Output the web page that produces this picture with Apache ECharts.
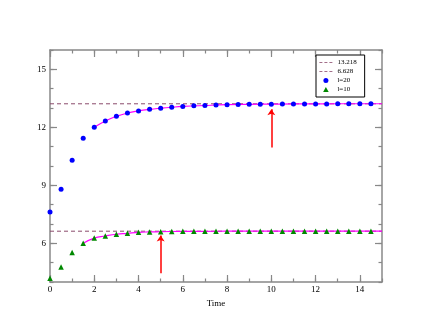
<!DOCTYPE html>
<html>
<head>
<meta charset="utf-8">
<script src="https://cdn.jsdelivr.net/npm/echarts@6/dist/echarts.min.js"></script>
<style>
  html, body { margin: 0; padding: 0; background: #fff; }
  #chart { width: 430px; height: 332px; }
</style>
</head>
<body>
<div id="chart"></div>
<script>
// data
var timeX = [0, 0.5, 1, 1.5, 2, 2.5, 3, 3.5, 4, 4.5, 5, 5.5, 6, 6.5, 7, 7.5, 8, 8.5, 9, 9.5,
  10, 10.5, 11, 11.5, 12, 12.5, 13, 13.5, 14, 14.5];
var l20 = [7.62, 8.8, 10.3, 11.43, 12.0, 12.33, 12.57, 12.74, 12.85, 12.93, 12.99, 13.04, 13.08,
  13.11, 13.13, 13.15, 13.17, 13.18, 13.19, 13.2, 13.2, 13.21, 13.21, 13.21, 13.21, 13.21, 13.22,
  13.22, 13.22, 13.22];
var l10 = [4.19, 4.77, 5.52, 6.0, 6.27, 6.38, 6.47, 6.52, 6.57, 6.59, 6.6, 6.61, 6.62, 6.62,
  6.62, 6.62, 6.63, 6.63, 6.63, 6.63, 6.63, 6.63, 6.63, 6.63, 6.63, 6.63, 6.63, 6.63, 6.63, 6.63];
var fit20X = [2, 2.5, 3, 3.5, 4, 4.5, 5, 5.5, 6, 7, 8, 9, 10, 11, 12, 13, 14, 15];
var fit20 = [12.0, 12.33, 12.57, 12.74, 12.85, 12.93, 12.99, 13.04, 13.08, 13.13, 13.17, 13.19,
  13.2, 13.21, 13.21, 13.22, 13.22, 13.22];
var fit10X = [1.5, 2, 2.5, 3, 3.5, 4, 4.5, 5, 6, 7, 8, 10, 12, 15];
var fit10 = [6.0, 6.27, 6.38, 6.47, 6.52, 6.57, 6.59, 6.6, 6.62, 6.62, 6.63, 6.63, 6.63, 6.63];
var levelNames = ["13.218", "6.628"];
var levels = [13.218, 6.628];
var levelX = [0, 15];
var arrowX = [5, 10];
var arrowFrom = [4.45, 10.96];
var arrowTo = [6.41, 12.93];
var xMajor = [0, 2, 4, 6, 8, 10, 12, 14];
var yMajor = [6, 9, 12, 15];

var serif = "Liberation Serif";
var frame = "#888888";

function pairs(xs, ys) {
  return xs.map(function (x, i) { return [x, ys[i]]; });
}

// grid 0: frame + short ticks every unit; grid 1 (same box): long ticks + labels
function xAx(grid, pos, labels) {
  var major = grid === 1;
  return {
    type: "value", gridIndex: grid, position: pos, min: 0, max: 15, interval: 1,
    axisLine: { show: !major, onZero: false, lineStyle: { color: frame, width: 1.5 } },
    axisTick: major
      ? { inside: true, length: 7, customValues: xMajor, lineStyle: { color: frame, width: 1.2 } }
      : { inside: true, length: 3.5, lineStyle: { color: frame, width: 1.2 } },
    axisLabel: labels
      ? { customValues: xMajor, margin: 3, fontFamily: serif, fontSize: 9, color: "#000" }
      : { show: false },
    splitLine: { show: false },
    name: labels ? "Time" : "",
    nameLocation: "middle", nameGap: 17,
    nameTextStyle: { fontFamily: serif, fontSize: 9, color: "#000" }
  };
}

function yAx(grid, pos, labels) {
  var major = grid === 1;
  return {
    type: "value", gridIndex: grid, position: pos, min: 4, max: 16, interval: 1,
    axisLine: { show: !major, onZero: false, lineStyle: { color: frame, width: 1.5 } },
    axisTick: major
      ? { inside: true, length: 7, customValues: yMajor, lineStyle: { color: frame, width: 1.2 } }
      : { inside: true, length: 3.5, lineStyle: { color: frame, width: 1.2 } },
    axisLabel: labels
      ? { customValues: yMajor, margin: 4, fontFamily: serif, fontSize: 9, color: "#000" }
      : { show: false },
    splitLine: { show: false }
  };
}

var chart = echarts.init(document.getElementById("chart"));

var series = [];
levelNames.forEach(function (n, i) {
  series.push({
    name: n, type: "line", symbol: "none", z: 2,
    data: pairs(levelX, [levels[i], levels[i]]),
    lineStyle: { color: "#8a4a6c", width: 1, type: [4, 3] },
    itemStyle: { color: "#8a4a6c" }
  });
});
series.push({
  name: "fit20", type: "line", symbol: "none", smooth: true, z: 3,
  data: pairs(fit20X, fit20), lineStyle: { color: "#ff00ff", width: 1.2 }
});
series.push({
  name: "fit10", type: "line", symbol: "none", smooth: true, z: 3,
  data: pairs(fit10X, fit10), lineStyle: { color: "#ff00ff", width: 1.2 }
});
series.push({
  name: "l=20", type: "scatter", symbol: "circle", symbolSize: 5, z: 4,
  data: pairs(timeX, l20), itemStyle: { color: "#0000ff", opacity: 1 }
});
series.push({
  name: "l=10", type: "scatter", symbol: "triangle", symbolSize: 5.5, z: 4,
  data: pairs(timeX, l10), itemStyle: { color: "#008800", opacity: 1 }
});
series.push({
  name: "arrows", type: "line", data: [], z: 5,
  markLine: {
    silent: true, animation: false,
    symbol: ["none", "arrow"], symbolSize: 6,
    label: { show: false },
    lineStyle: { color: "#ff0000", width: 1.5, type: "solid" },
    data: arrowX.map(function (x, i) {
      return [{ coord: [x, arrowFrom[i]] }, { coord: [x, arrowTo[i]] }];
    })
  }
});

chart.setOption({
  animation: false,
  backgroundColor: "#fff",
  grid: [
    { left: 50, top: 50, right: 48, bottom: 50 },
    { left: 50, top: 50, right: 48, bottom: 50 }
  ],
  legend: {
    data: [
      { name: "13.218", itemStyle: { color: "transparent", borderWidth: 0 },
        lineStyle: { width: 0.8, type: [3, 2] } },
      { name: "6.628", itemStyle: { color: "transparent", borderWidth: 0 },
        lineStyle: { width: 0.8, type: [3, 2] } },
      { name: "l=20", icon: "circle" },
      { name: "l=10", icon: "path://M5,0 L10,9 L0,9 Z" }
    ],
    orient: "vertical", left: 316, top: 55,
    backgroundColor: "#fff", borderColor: "#000", borderWidth: 1,
    padding: [4, 8, 4, 3], itemWidth: 13, itemHeight: 5, itemGap: 2,
    textStyle: { fontFamily: serif, fontSize: 7, color: "#000", lineHeight: 7 }
  },
  xAxis: [xAx(0, "bottom", false), xAx(0, "top", false), xAx(1, "bottom", true), xAx(1, "top", false)],
  yAxis: [yAx(0, "left", false), yAx(0, "right", false), yAx(1, "left", true), yAx(1, "right", false)],
  series: series
});
</script>
</body>
</html>
